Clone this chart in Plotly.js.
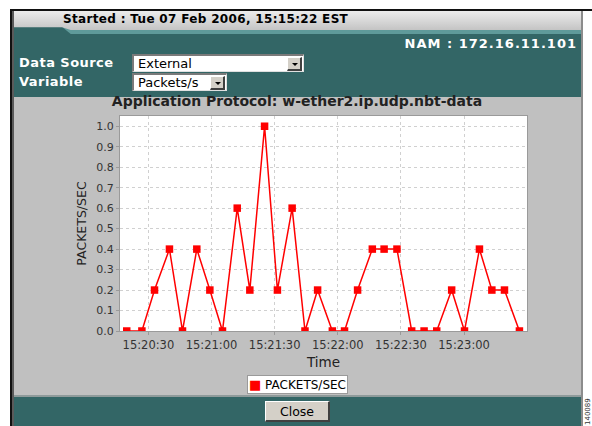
<!DOCTYPE html>
<html>
<head>
<meta charset="utf-8">
<script src="https://cdn.plot.ly/plotly-3.0.1.min.js"></script>
<style>
  html, body { margin:0; padding:0; background:#ffffff; width:592px; height:426px; overflow:hidden; font-family:"DejaVu Sans", Verdana, sans-serif; }
  .abs { position:absolute; }
  .lbl { color:#ffffff; font-weight:bold; font-size:13px; white-space:nowrap; }
  .sel { background:#ffffff; border-top:2px solid #7a7a7a; border-left:2px solid #7a7a7a; border-bottom:1px solid #e0e0e0; border-right:1px solid #e0e0e0; box-sizing:border-box; font-size:13px; color:#000; }
  .btn { background:#d4d0c8; border-top:1px solid #ffffff; border-left:1px solid #ffffff; border-right:2px solid #404040; border-bottom:2px solid #404040; box-sizing:border-box; }
  .tri { position:absolute; left:4px; top:5px; width:0; height:0; border-left:3px solid transparent; border-right:3px solid transparent; border-top:3px solid #000; }
</style>
</head>
<body>
<!-- frame -->
<div class="abs" style="left:10px;top:9px;width:582px;height:2px;background:#111;"></div>
<div class="abs" style="left:10px;top:9px;width:2px;height:417px;background:#111;"></div>
<div class="abs" style="left:12px;top:11px;width:2px;height:415px;background:#5a5a5a;"></div>
<div class="abs" style="left:581px;top:11px;width:2px;height:415px;background:#8c8c8c;"></div>
<!-- header -->
<div class="abs" style="left:14px;top:11px;width:567px;height:86px;background:#336666;"></div>
<div class="abs" style="left:14px;top:11px;width:567px;height:23px;background:#5f9a9a;clip-path:polygon(0 0,100% 0,100% 100%,10% 100%,8.5% 70%,0 70%);"></div>
<div class="abs" style="left:14px;top:11px;width:567px;height:19px;background:linear-gradient(#ececec,#c4c4c4);clip-path:polygon(0 0,100% 0,100% 100%,10% 100%,8.5% 85%,0 85%);"></div>
<div class="abs" style="left:63px;top:12px;font-size:12px;font-weight:bold;color:#000;white-space:nowrap;letter-spacing:0.33px;">Started : Tue 07 Feb 2006, 15:15:22 EST</div>
<div class="abs lbl" style="right:15px;top:36px;letter-spacing:1px;">NAM : 172.16.11.101</div>
<div class="abs lbl" style="left:19px;top:55px;letter-spacing:0.45px;">Data Source</div>
<div class="abs lbl" style="left:19px;top:74px;letter-spacing:0.45px;">Variable</div>
<div class="abs sel" style="left:132px;top:54px;width:172px;height:18px;">
  <span class="abs" style="left:4px;top:0px;">External</span>
  <div class="abs btn" style="right:1px;top:1px;width:15px;height:14px;"><div class="tri"></div></div>
</div>
<div class="abs sel" style="left:132px;top:73px;width:95px;height:18px;">
  <span class="abs" style="left:4px;top:0px;">Packets/s</span>
  <div class="abs btn" style="right:1px;top:1px;width:15px;height:14px;"><div class="tri"></div></div>
</div>
<!-- gray area -->
<div class="abs" style="left:14px;top:97px;width:567px;height:299px;background:#c0c0c0;"></div>
<div class="abs" style="left:14px;top:395px;width:567px;height:2px;background:#8e9a9a;"></div>
<div class="abs" style="left:14px;top:397px;width:567px;height:29px;background:#336666;"></div>
<div class="abs btn" style="left:265px;top:401px;width:65px;height:21px;">
  <span class="abs" style="left:0;width:62px;top:2px;text-align:center;font-size:12.5px;color:#000;">Close</span>
</div>
<div class="abs" style="left:584px;top:425px;font-size:7px;line-height:8px;color:#333;transform-origin:0 0;transform:rotate(-90deg);white-space:nowrap;">140089</div>

<div id="chart" class="abs" style="left:0;top:0;width:592px;height:426px;"></div>
<script>
const dateStr = '2006-02-07 ';
const times = ['15:20:19.7','15:20:26.9','15:20:32.9','15:20:40.0','15:20:46.2','15:20:53.0','15:20:59.2','15:21:05.2','15:21:12.2','15:21:18.2',
               '15:21:25.2','15:21:31.3','15:21:38.3','15:21:44.4','15:21:50.4','15:21:57.4','15:22:03.2','15:22:09.4','15:22:16.4','15:22:22.0',
               '15:22:28.1','15:22:35.1','15:22:41.0','15:22:47.0','15:22:54.1','15:23:00.2','15:23:07.3','15:23:13.2','15:23:19.2','15:23:26.3'];
const packetsPerSec = [0,0,0.2,0.4,0,0.4,0.2,0,0.6,0.2,
                       1.0,0.2,0.6,0,0.2,0,0,0.2,0.4,0.4,
                       0.4,0,0,0,0.2,0,0.4,0.2,0.2,0];
const seriesName = 'PACKETS/SEC';
const chartTitle = 'Application Protocol: w-ether2.ip.udp.nbt-data';
const xRange = ['15:20:16.5','15:23:29.9'];

const xs = times.map(t => dateStr + t);
const fontFam = '"DejaVu Sans", Verdana, sans-serif';

const data = [
  { x: xs, y: packetsPerSec, type: 'scatter', mode: 'lines+markers', name: seriesName, showlegend: false,
    line: { color: '#ff0000', width: 1.5 }, marker: { symbol: 'square', size: 7.5, color: '#ff0000' } }
];

const layout = {
  width: 592, height: 426,
  margin: { l: 120, r: 65, t: 116, b: 95 },
  paper_bgcolor: 'rgba(0,0,0,0)',
  plot_bgcolor: '#ffffff',
  showlegend: false,
  font: { family: fontFam, size: 11, color: '#333333' },
  title: { text: '<b>' + chartTitle + '</b>', font: { family: fontFam, size: 14, color: '#222' },
           xref: 'container', yref: 'container', x: 297/592, xanchor: 'center', y: 1 - 101/426, yanchor: 'middle' },
  xaxis: {
    type: 'date', range: xRange.map(t => dateStr + t),
    tickformat: '%H:%M:%S', tick0: dateStr + '15:20:30', dtick: 30000,
    showgrid: true, gridcolor: '#d0d0d0', griddash: 'dot', gridwidth: 1,
    showline: true, mirror: true, linecolor: '#9a9a9a', linewidth: 1,
    ticks: 'outside', ticklen: 3, tickcolor: '#9a9a9a',
    tickfont: { size: 11.5, color: '#333' }, zeroline: false,
    title: { text: 'Time', font: { size: 13.5, color: '#222' }, standoff: 6 }
  },
  yaxis: {
    range: [0, 1.05], dtick: 0.1, tick0: 0, tickformat: '.1f',
    showgrid: true, gridcolor: '#d0d0d0', griddash: 'dot', gridwidth: 1,
    showline: true, mirror: true, linecolor: '#9a9a9a', linewidth: 1,
    ticks: 'outside', ticklen: 3, tickcolor: '#9a9a9a',
    tickfont: { size: 11, color: '#333' }, zeroline: false,
    title: { text: 'PACKETS/SEC', font: { size: 12.5, color: '#222' }, standoff: 6 }
  },
  annotations: [{
    xref: 'paper', yref: 'paper', x: (297.5 - 120) / 407, y: (331 - 375) / 215,
    xanchor: 'center', yanchor: 'top', showarrow: false,
    text: '<span style="color:#ff0000;font-size:13px">\u25A0</span> ' + seriesName,
    font: { size: 12, color: '#000' }, bgcolor: '#ffffff', bordercolor: '#9a9a9a', borderwidth: 1, borderpad: 1
  }]
};

Plotly.newPlot('chart', data, layout, { staticPlot: true, displayModeBar: false });
</script>
</body>
</html>
